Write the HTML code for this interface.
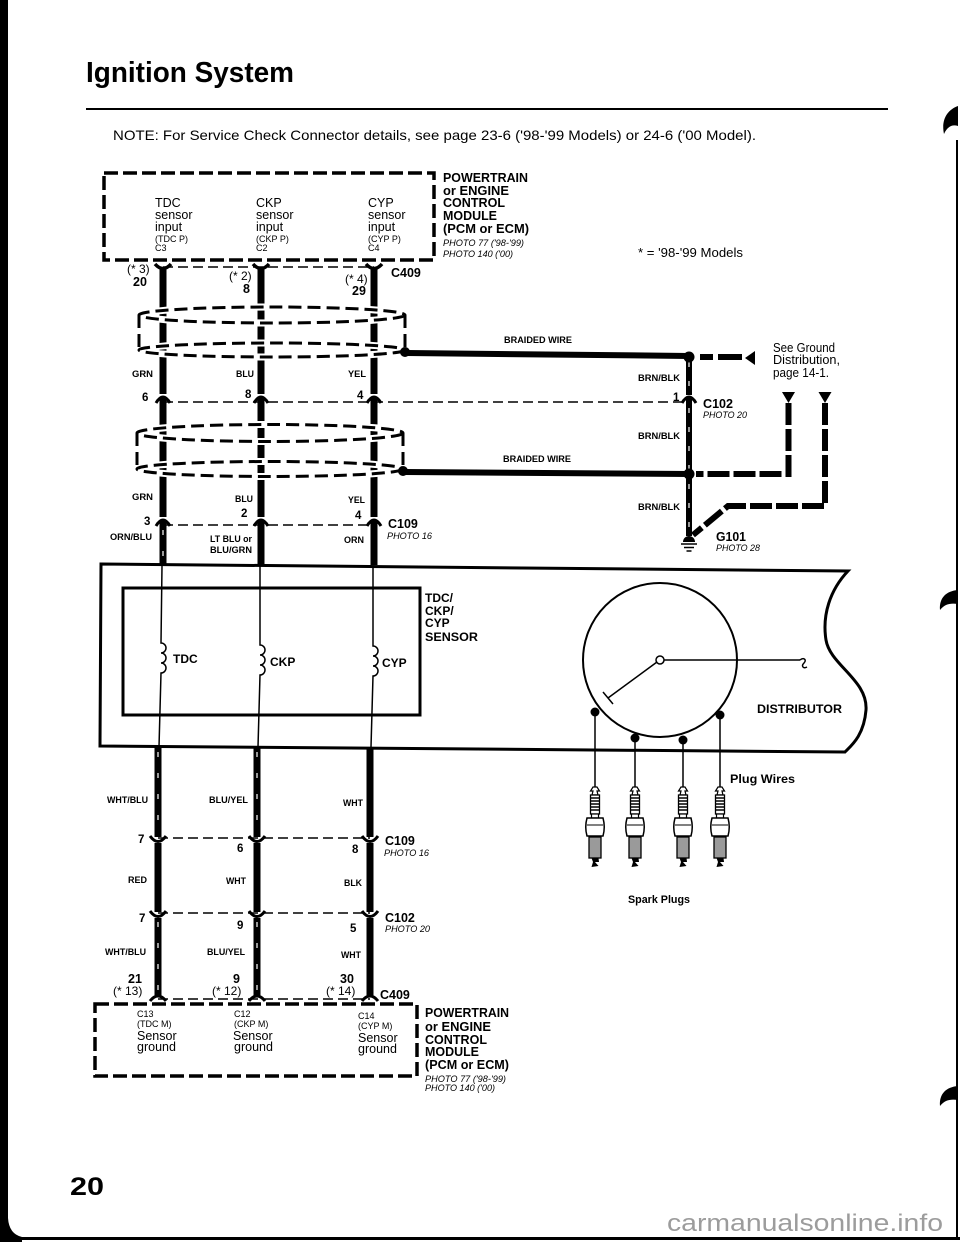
<!DOCTYPE html>
<html><head><meta charset="utf-8">
<style>
html,body{margin:0;padding:0;background:#fff;}
svg{display:block;}
text{font-family:"Liberation Sans",Arial,sans-serif;fill:#000;}
.b{font-weight:bold;}
.i{font-style:italic;}
</style></head><body>
<svg width="960" height="1242" viewBox="0 0 960 1242" xmlns="http://www.w3.org/2000/svg">
<rect x="0" y="0" width="960" height="1242" fill="#fff"/>
<!-- page frame -->
<rect x="0" y="0" width="8" height="1242"/>
<path d="M0,1218 L8,1218 Q9,1234 22,1237 L22,1242 L0,1242 Z"/>
<rect x="0" y="1237" width="960" height="3"/>
<rect x="956" y="140" width="2" height="1100"/>
<path d="M958,106 C947,110 941,120 944,134 C947,127 952,124 958,126 Z"/>
<path d="M958,590 C946,591 939,598 940,610 C945,604 950,603 958,604 Z"/>
<path d="M958,1086 C946,1087 939,1094 940,1106 C945,1100 950,1099 958,1100 Z"/>

<!-- header -->
<text x="86" y="82" class="b" font-size="29" textLength="208" lengthAdjust="spacingAndGlyphs">Ignition System</text>
<rect x="86" y="108" width="802" height="2"/>
<text x="113" y="140" font-size="14" textLength="643" lengthAdjust="spacingAndGlyphs">NOTE: For Service Check Connector details, see page 23-6 ('98-'99 Models) or 24-6 ('00 Model).</text>

<!-- top PCM box -->
<rect x="104" y="173" width="330" height="87" fill="none" stroke="#000" stroke-width="3.5" stroke-dasharray="14 5"/>
<g font-size="12.5">
<text x="155" y="207">TDC</text><text x="155" y="219">sensor</text><text x="155" y="231">input</text>
<text x="256" y="207">CKP</text><text x="256" y="219">sensor</text><text x="256" y="231">input</text>
<text x="368" y="207">CYP</text><text x="368" y="219">sensor</text><text x="368" y="231">input</text>
</g>
<g font-size="9">
<text x="155" y="242">(TDC P)</text><text x="155" y="251">C3</text>
<text x="256" y="242">(CKP P)</text><text x="256" y="251">C2</text>
<text x="368" y="242">(CYP P)</text><text x="368" y="251">C4</text>
</g>
<g class="b" font-size="13">
<text x="443" y="182" textLength="85" lengthAdjust="spacingAndGlyphs">POWERTRAIN</text>
<text x="443" y="195" textLength="66" lengthAdjust="spacingAndGlyphs">or ENGINE</text>
<text x="443" y="207" textLength="62" lengthAdjust="spacingAndGlyphs">CONTROL</text>
<text x="443" y="220" textLength="54" lengthAdjust="spacingAndGlyphs">MODULE</text>
<text x="443" y="233" textLength="86" lengthAdjust="spacingAndGlyphs">(PCM or ECM)</text>
</g>
<text x="443" y="246" class="i" font-size="9.5" textLength="81" lengthAdjust="spacingAndGlyphs">PHOTO 77 ('98-'99)</text>
<text x="443" y="257" class="i" font-size="9.5" textLength="70" lengthAdjust="spacingAndGlyphs">PHOTO 140 ('00)</text>
<text x="638" y="257" font-size="13" textLength="105" lengthAdjust="spacingAndGlyphs">* = '98-'99 Models</text>

<!-- C409 top connectors -->
<line x1="163" y1="267" x2="374" y2="267" stroke="#000" stroke-width="1.5" stroke-dasharray="10 5"/>
<g fill="none" stroke="#000" stroke-width="3.5">
<path d="M155,264 Q163,273 171,264"/><path d="M253,264 Q261,273 269,264"/><path d="M366,264 Q374,273 382,264"/>
</g>
<g font-size="12">
<text x="127" y="273">(* 3)</text><text x="229" y="280">(* 2)</text><text x="345" y="283">(* 4)</text>
</g>
<g class="b" font-size="12.5">
<text x="133" y="286">20</text><text x="243" y="293">8</text><text x="352" y="295">29</text>
<text x="391" y="277">C409</text>
</g>

<!-- top wires -->
<g stroke="#000" stroke-width="7">
<line x1="163" y1="269" x2="163" y2="394"/><line x1="261" y1="269" x2="261" y2="394"/><line x1="374" y1="269" x2="374" y2="394"/>
<line x1="163" y1="397" x2="163" y2="517"/><line x1="261" y1="397" x2="261" y2="517"/><line x1="374" y1="397" x2="374" y2="517"/>
<line x1="163" y1="520" x2="163" y2="565"/><line x1="261" y1="520" x2="261" y2="565"/><line x1="374" y1="520" x2="374" y2="565"/>
</g>
<line x1="163" y1="530" x2="163" y2="564" stroke="#fff" stroke-width="1.2" stroke-dasharray="5 16"/>

<!-- shields -->
<g fill="none" stroke="#fff" stroke-width="7">
<ellipse cx="272" cy="315" rx="133" ry="8"/><ellipse cx="272" cy="350" rx="133" ry="7"/>
<ellipse cx="270" cy="433" rx="133" ry="8.5"/><ellipse cx="270" cy="469" rx="133" ry="7.5"/>
</g>
<g fill="none" stroke="#000" stroke-width="3" stroke-dasharray="13 6">
<ellipse cx="272" cy="315" rx="133" ry="8"/><ellipse cx="272" cy="350" rx="133" ry="7"/>
<line x1="139" y1="315" x2="139" y2="350"/><line x1="405" y1="315" x2="405" y2="348"/>
<ellipse cx="270" cy="433" rx="133" ry="8.5"/><ellipse cx="270" cy="469" rx="133" ry="7.5"/>
<line x1="137" y1="433" x2="137" y2="469"/><line x1="403" y1="433" x2="403" y2="467"/>
</g>
<circle cx="405" cy="352" r="5"/>
<circle cx="403" cy="471" r="5"/>
<line x1="407" y1="353" x2="689" y2="356" stroke="#000" stroke-width="6"/>
<line x1="405" y1="472" x2="689" y2="474" stroke="#000" stroke-width="6"/>
<text x="504" y="343" class="b" font-size="9.5" textLength="68" lengthAdjust="spacingAndGlyphs">BRAIDED WIRE</text>
<text x="503" y="462" class="b" font-size="9.5" textLength="68" lengthAdjust="spacingAndGlyphs">BRAIDED WIRE</text>

<!-- wire labels top -->
<g class="b" font-size="9.5">
<text x="132" y="377" textLength="21" lengthAdjust="spacingAndGlyphs">GRN</text>
<text x="236" y="377" textLength="18" lengthAdjust="spacingAndGlyphs">BLU</text>
<text x="348" y="377" textLength="18" lengthAdjust="spacingAndGlyphs">YEL</text>
<text x="132" y="500" textLength="21" lengthAdjust="spacingAndGlyphs">GRN</text>
<text x="235" y="502" textLength="18" lengthAdjust="spacingAndGlyphs">BLU</text>
<text x="348" y="503" textLength="17" lengthAdjust="spacingAndGlyphs">YEL</text>
<text x="110" y="540" textLength="42" lengthAdjust="spacingAndGlyphs">ORN/BLU</text>
<text x="210" y="542" textLength="42" lengthAdjust="spacingAndGlyphs">LT BLU or</text>
<text x="210" y="553" textLength="42" lengthAdjust="spacingAndGlyphs">BLU/GRN</text>
<text x="344" y="543" textLength="20" lengthAdjust="spacingAndGlyphs">ORN</text>
</g>

<!-- C102 / C109 top rows -->
<line x1="163" y1="402" x2="689" y2="402" stroke="#000" stroke-width="1.5" stroke-dasharray="10 5"/>
<line x1="163" y1="525" x2="374" y2="525" stroke="#000" stroke-width="1.5" stroke-dasharray="10 5"/>
<g fill="none" stroke="#000" stroke-width="3">
<path d="M156,403 Q163,391 170,403"/><path d="M254,403 Q261,391 268,403"/><path d="M367,403 Q374,391 381,403"/>
<path d="M682,403 Q689,391 696,403"/>
<path d="M156,526 Q163,514 170,526"/><path d="M254,526 Q261,514 268,526"/><path d="M367,526 Q374,514 381,526"/>
</g>
<g class="b" font-size="11.5">
<text x="142" y="401">6</text><text x="245" y="398">8</text><text x="357" y="399">4</text>
<text x="673" y="401">1</text>
<text x="144" y="525">3</text><text x="241" y="517">2</text><text x="355" y="519">4</text>
</g>
<text x="388" y="528" class="b" font-size="12.5">C109</text>
<text x="387" y="539" class="i" font-size="9.5" textLength="45" lengthAdjust="spacingAndGlyphs">PHOTO 16</text>

<!-- right side ground -->
<g stroke="#000" stroke-width="6">
<line x1="689" y1="357" x2="689" y2="395"/>
<line x1="689" y1="398" x2="689" y2="536"/>
</g>
<line x1="689" y1="362" x2="689" y2="395" stroke="#fff" stroke-width="1.2" stroke-dasharray="5 14"/>
<line x1="689" y1="408" x2="689" y2="530" stroke="#fff" stroke-width="1.2" stroke-dasharray="5 14"/>
<circle cx="689" cy="357" r="5.5"/>
<circle cx="689" cy="474" r="5.5"/>
<path d="M683,542 A6,6 0 0 1 695,542 Z"/>
<g stroke="#000" stroke-width="1.5">
<line x1="681" y1="544" x2="697" y2="544"/><line x1="684" y1="547.5" x2="694" y2="547.5"/><line x1="686.5" y1="551" x2="691.5" y2="551"/>
</g>
<g fill="none" stroke="#000" stroke-width="6">
<line x1="700" y1="357" x2="713" y2="357"/><line x1="718" y1="357" x2="742" y2="357"/>
<path d="M788.5,403 L788.5,474 L696,474" stroke-dasharray="22 4"/>
<path d="M825,403 L825,506 L728,506 L693,535" stroke-dasharray="22 4"/>
</g>
<polygon points="745,358 755,351 755,365"/>
<polygon points="782,392 795,392 788.5,403"/>
<polygon points="818.5,392 831.5,392 825,403"/>
<g font-size="13">
<text x="773" y="352" textLength="62" lengthAdjust="spacingAndGlyphs">See Ground</text>
<text x="773" y="364" textLength="67" lengthAdjust="spacingAndGlyphs">Distribution,</text>
<text x="773" y="377" textLength="56" lengthAdjust="spacingAndGlyphs">page 14-1.</text>
</g>
<g class="b" font-size="9.5">
<text x="638" y="381" textLength="42" lengthAdjust="spacingAndGlyphs">BRN/BLK</text>
<text x="638" y="439" textLength="42" lengthAdjust="spacingAndGlyphs">BRN/BLK</text>
<text x="638" y="510" textLength="42" lengthAdjust="spacingAndGlyphs">BRN/BLK</text>
</g>
<text x="703" y="408" class="b" font-size="13" textLength="30" lengthAdjust="spacingAndGlyphs">C102</text>
<text x="703" y="418" class="i" font-size="9.5" textLength="44" lengthAdjust="spacingAndGlyphs">PHOTO 20</text>
<text x="716" y="541" class="b" font-size="13" textLength="30" lengthAdjust="spacingAndGlyphs">G101</text>
<text x="716" y="551" class="i" font-size="9.5" textLength="44" lengthAdjust="spacingAndGlyphs">PHOTO 28</text>

<!-- outer box with wavy end -->
<path d="M101,564 L848,571 C830,590 822,615 826,640 C830,665 868,680 866,710 C864,735 852,745 845,752 L100,746 Z" fill="none" stroke="#000" stroke-width="3"/>
<!-- inner sensor box -->
<rect x="123" y="588" width="297" height="127" fill="none" stroke="#000" stroke-width="3"/>
<g class="b" font-size="12">
<text x="425" y="602">TDC/</text><text x="425" y="615">CKP/</text><text x="425" y="627">CYP</text>
<text x="425" y="641" textLength="53" lengthAdjust="spacingAndGlyphs">SENSOR</text>
<text x="173" y="663">TDC</text><text x="270" y="666">CKP</text><text x="382" y="667">CYP</text>
</g>
<g fill="none" stroke="#000" stroke-width="1.5">
<path d="M162,566 L161,643 a5,5 0 0 1 0,10 a5,5 0 0 1 0,10 a5,5 0 0 1 0,10 L159,747"/>
<path d="M260,566 L260,645 a5,5 0 0 1 0,10 a5,5 0 0 1 0,10 a5,5 0 0 1 0,10 L258,747"/>
<path d="M373,566 L373,646 a5,5 0 0 1 0,10 a5,5 0 0 1 0,10 a5,5 0 0 1 0,10 L371,747"/>
</g>

<!-- distributor -->
<circle cx="660" cy="660" r="77" fill="none" stroke="#000" stroke-width="2"/>
<g fill="none" stroke="#000" stroke-width="1.5">
<line x1="664" y1="660" x2="800" y2="660"/>
<path d="M800,660 c4,-3 7,0 4,3 c-3,3 -1,6 3,4"/>
<line x1="657" y1="662" x2="608" y2="698"/>
<line x1="603" y1="692" x2="613" y2="704"/>
<line x1="595" y1="712" x2="595" y2="787"/>
<line x1="635" y1="738" x2="635" y2="787"/>
<line x1="683" y1="740" x2="683" y2="787"/>
<line x1="720" y1="715" x2="720" y2="787"/>
</g>
<circle cx="660" cy="660" r="4" fill="#fff" stroke="#000" stroke-width="1.5"/>
<circle cx="595" cy="712" r="4.5"/><circle cx="635" cy="738" r="4.5"/>
<circle cx="683" cy="740" r="4.5"/><circle cx="720" cy="715" r="4.5"/>
<text x="757" y="713" class="b" font-size="12" textLength="85" lengthAdjust="spacingAndGlyphs">DISTRIBUTOR</text>
<text x="730" y="783" class="b" font-size="12" textLength="65" lengthAdjust="spacingAndGlyphs">Plug Wires</text>
<text x="628" y="903" class="b" font-size="11" textLength="62" lengthAdjust="spacingAndGlyphs">Spark Plugs</text>

<!-- spark plugs -->
<g transform="translate(595,787)">
<path d="M-2,0 L2,0 L4.5,4 L2,4 L3,8 L-3,8 L-2,4 L-4.5,4 Z" fill="#fff" stroke="#000" stroke-width="1.2"/>
<rect x="-4.5" y="8" width="9" height="19" fill="#fff" stroke="#000" stroke-width="1.3"/>
<path d="M-4.5,11 h9 M-4.5,14 h9 M-4.5,17 h9 M-4.5,20 h9 M-4.5,23 h9" stroke="#000" stroke-width="1.5"/>
<rect x="-3.5" y="27" width="7" height="4" fill="#fff" stroke="#000" stroke-width="1.2"/>
<path d="M-8,31 L8,31 Q10.5,40 8,49 L-8,49 Q-10.5,40 -8,31 Z" fill="#fff" stroke="#000" stroke-width="1.5"/>
<line x1="-8" y1="38" x2="8" y2="38" stroke="#000" stroke-width="1"/>
<rect x="-6" y="50" width="12" height="21" fill="#9a9a9a" stroke="#000" stroke-width="1.3"/>
<path d="M-3.5,71 L3.5,71 L4,75 L0,75 L3.5,79 L-3.5,80 L-2,75 Z"/>
</g>
<g transform="translate(635,787)">
<path d="M-2,0 L2,0 L4.5,4 L2,4 L3,8 L-3,8 L-2,4 L-4.5,4 Z" fill="#fff" stroke="#000" stroke-width="1.2"/>
<rect x="-4.5" y="8" width="9" height="19" fill="#fff" stroke="#000" stroke-width="1.3"/>
<path d="M-4.5,11 h9 M-4.5,14 h9 M-4.5,17 h9 M-4.5,20 h9 M-4.5,23 h9" stroke="#000" stroke-width="1.5"/>
<rect x="-3.5" y="27" width="7" height="4" fill="#fff" stroke="#000" stroke-width="1.2"/>
<path d="M-8,31 L8,31 Q10.5,40 8,49 L-8,49 Q-10.5,40 -8,31 Z" fill="#fff" stroke="#000" stroke-width="1.5"/>
<line x1="-8" y1="38" x2="8" y2="38" stroke="#000" stroke-width="1"/>
<rect x="-6" y="50" width="12" height="21" fill="#9a9a9a" stroke="#000" stroke-width="1.3"/>
<path d="M-3.5,71 L3.5,71 L4,75 L0,75 L3.5,79 L-3.5,80 L-2,75 Z"/>
</g>
<g transform="translate(683,787)">
<path d="M-2,0 L2,0 L4.5,4 L2,4 L3,8 L-3,8 L-2,4 L-4.5,4 Z" fill="#fff" stroke="#000" stroke-width="1.2"/>
<rect x="-4.5" y="8" width="9" height="19" fill="#fff" stroke="#000" stroke-width="1.3"/>
<path d="M-4.5,11 h9 M-4.5,14 h9 M-4.5,17 h9 M-4.5,20 h9 M-4.5,23 h9" stroke="#000" stroke-width="1.5"/>
<rect x="-3.5" y="27" width="7" height="4" fill="#fff" stroke="#000" stroke-width="1.2"/>
<path d="M-8,31 L8,31 Q10.5,40 8,49 L-8,49 Q-10.5,40 -8,31 Z" fill="#fff" stroke="#000" stroke-width="1.5"/>
<line x1="-8" y1="38" x2="8" y2="38" stroke="#000" stroke-width="1"/>
<rect x="-6" y="50" width="12" height="21" fill="#9a9a9a" stroke="#000" stroke-width="1.3"/>
<path d="M-3.5,71 L3.5,71 L4,75 L0,75 L3.5,79 L-3.5,80 L-2,75 Z"/>
</g>
<g transform="translate(720,787)">
<path d="M-2,0 L2,0 L4.5,4 L2,4 L3,8 L-3,8 L-2,4 L-4.5,4 Z" fill="#fff" stroke="#000" stroke-width="1.2"/>
<rect x="-4.5" y="8" width="9" height="19" fill="#fff" stroke="#000" stroke-width="1.3"/>
<path d="M-4.5,11 h9 M-4.5,14 h9 M-4.5,17 h9 M-4.5,20 h9 M-4.5,23 h9" stroke="#000" stroke-width="1.5"/>
<rect x="-3.5" y="27" width="7" height="4" fill="#fff" stroke="#000" stroke-width="1.2"/>
<path d="M-8,31 L8,31 Q10.5,40 8,49 L-8,49 Q-10.5,40 -8,31 Z" fill="#fff" stroke="#000" stroke-width="1.5"/>
<line x1="-8" y1="38" x2="8" y2="38" stroke="#000" stroke-width="1"/>
<rect x="-6" y="50" width="12" height="21" fill="#9a9a9a" stroke="#000" stroke-width="1.3"/>
<path d="M-3.5,71 L3.5,71 L4,75 L0,75 L3.5,79 L-3.5,80 L-2,75 Z"/>
</g>

<!-- bottom wires -->
<g stroke="#000" stroke-width="7">
<line x1="158" y1="747" x2="158" y2="837"/><line x1="257" y1="747" x2="257" y2="837"/><line x1="370" y1="747" x2="370" y2="837"/>
<line x1="158" y1="843" x2="158" y2="912"/><line x1="257" y1="843" x2="257" y2="912"/><line x1="370" y1="843" x2="370" y2="912"/>
<line x1="158" y1="918" x2="158" y2="997"/><line x1="257" y1="918" x2="257" y2="997"/><line x1="370" y1="918" x2="370" y2="997"/>
</g>
<g stroke="#fff" stroke-width="1.2" stroke-dasharray="5 16">
<line x1="158" y1="752" x2="158" y2="832"/><line x1="257" y1="752" x2="257" y2="832"/>
<line x1="158" y1="922" x2="158" y2="992"/><line x1="257" y1="922" x2="257" y2="992"/>
</g>
<g stroke="#000" stroke-width="1.5" stroke-dasharray="10 5">
<line x1="158" y1="838" x2="370" y2="838"/>
<line x1="158" y1="913" x2="370" y2="913"/>
<line x1="158" y1="999" x2="370" y2="999"/>
</g>
<g fill="none" stroke="#000" stroke-width="3">
<path d="M150,836 Q158,847 166,836"/><path d="M249,836 Q257,847 265,836"/><path d="M362,836 Q370,847 378,836"/>
<path d="M150,911 Q158,922 166,911"/><path d="M249,911 Q257,922 265,911"/><path d="M362,911 Q370,922 378,911"/>
<path d="M150,1001 Q158,991 166,1001"/><path d="M249,1001 Q257,991 265,1001"/><path d="M362,1001 Q370,991 378,1001"/>
</g>
<g class="b" font-size="9.5">
<text x="107" y="803" textLength="41" lengthAdjust="spacingAndGlyphs">WHT/BLU</text>
<text x="209" y="803" textLength="39" lengthAdjust="spacingAndGlyphs">BLU/YEL</text>
<text x="343" y="806" textLength="20" lengthAdjust="spacingAndGlyphs">WHT</text>
<text x="128" y="883" textLength="19" lengthAdjust="spacingAndGlyphs">RED</text>
<text x="226" y="884" textLength="20" lengthAdjust="spacingAndGlyphs">WHT</text>
<text x="344" y="886" textLength="18" lengthAdjust="spacingAndGlyphs">BLK</text>
<text x="105" y="955" textLength="41" lengthAdjust="spacingAndGlyphs">WHT/BLU</text>
<text x="207" y="955" textLength="38" lengthAdjust="spacingAndGlyphs">BLU/YEL</text>
<text x="341" y="958" textLength="20" lengthAdjust="spacingAndGlyphs">WHT</text>
</g>
<g class="b" font-size="11.5">
<text x="138" y="843">7</text><text x="237" y="852">6</text><text x="352" y="853">8</text>
<text x="139" y="922">7</text><text x="237" y="929">9</text><text x="350" y="932">5</text>
</g>
<g class="b" font-size="12.5">
<text x="385" y="845">C109</text><text x="385" y="922">C102</text>
<text x="128" y="983">21</text><text x="233" y="983">9</text><text x="340" y="983">30</text>
<text x="380" y="999">C409</text>
</g>
<text x="384" y="856" class="i" font-size="9.5" textLength="45" lengthAdjust="spacingAndGlyphs">PHOTO 16</text>
<text x="385" y="932" class="i" font-size="9.5" textLength="45" lengthAdjust="spacingAndGlyphs">PHOTO 20</text>
<g font-size="12">
<text x="113" y="995">(* 13)</text><text x="212" y="995">(* 12)</text><text x="326" y="995">(* 14)</text>
</g>

<!-- bottom PCM box -->
<rect x="95" y="1004" width="322" height="72" fill="none" stroke="#000" stroke-width="3.5" stroke-dasharray="14 5"/>
<g font-size="9">
<text x="137" y="1017">C13</text><text x="137" y="1027">(TDC M)</text>
<text x="234" y="1017">C12</text><text x="234" y="1027">(CKP M)</text>
<text x="358" y="1019">C14</text><text x="358" y="1029">(CYP M)</text>
</g>
<g font-size="12.5">
<text x="137" y="1040">Sensor</text><text x="137" y="1051">ground</text>
<text x="233" y="1040">Sensor</text><text x="234" y="1051">ground</text>
<text x="358" y="1042">Sensor</text><text x="358" y="1053">ground</text>
</g>
<g class="b" font-size="13">
<text x="425" y="1017" textLength="84" lengthAdjust="spacingAndGlyphs">POWERTRAIN</text>
<text x="425" y="1031" textLength="66" lengthAdjust="spacingAndGlyphs">or ENGINE</text>
<text x="425" y="1044" textLength="62" lengthAdjust="spacingAndGlyphs">CONTROL</text>
<text x="425" y="1056" textLength="54" lengthAdjust="spacingAndGlyphs">MODULE</text>
<text x="425" y="1069" textLength="84" lengthAdjust="spacingAndGlyphs">(PCM or ECM)</text>
</g>
<text x="425" y="1082" class="i" font-size="9.5" textLength="81" lengthAdjust="spacingAndGlyphs">PHOTO 77 ('98-'99)</text>
<text x="425" y="1091" class="i" font-size="9.5" textLength="70" lengthAdjust="spacingAndGlyphs">PHOTO 140 ('00)</text>

<!-- footer -->
<text x="70" y="1195" class="b" font-size="25" textLength="34" lengthAdjust="spacingAndGlyphs">20</text>
<text x="667" y="1231" font-size="24" style="fill:#9c9c9c" textLength="276" lengthAdjust="spacingAndGlyphs">carmanualsonline.info</text>
</svg>
</body></html>
